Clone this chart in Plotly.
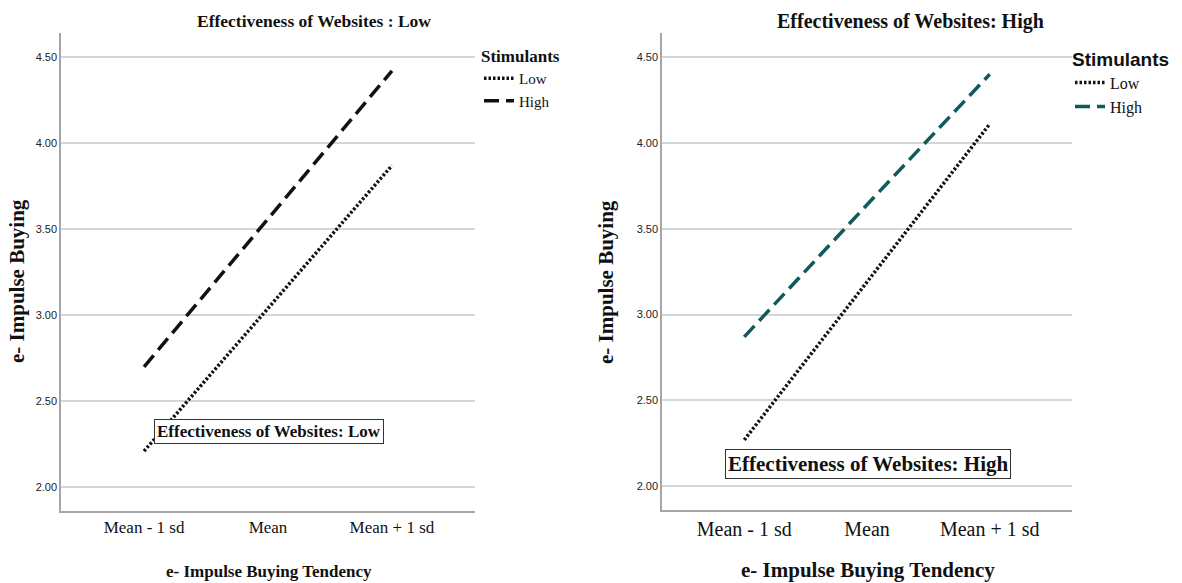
import plotly.graph_objects as go

categories = ["Mean - 1 sd", "Mean", "Mean + 1 sd"]
left_low = [2.21, 3.04, 3.87]
left_high = [2.70, 3.56, 4.42]
right_low = [2.27, 3.19, 4.11]
right_high = [2.87, 3.64, 4.40]
y_ticks = [2.0, 2.5, 3.0, 3.5, 4.0, 4.5]
series_names = ["Low", "High"]

W, H = 1182, 583
SERIF = "Liberation Serif, Times New Roman, serif"
SANS = "Liberation Sans, Arial, sans-serif"
TEAL = "#115a5a"


def px(x):
    return x / W


def py(y):
    return 1 - y / H


fig = go.Figure()

# left panel
fig.add_trace(go.Scatter(x=categories, y=left_low, mode="lines", name=series_names[0],
                         line=dict(color="#111111", width=3.5, dash="2.5px,2px"),
                         xaxis="x", yaxis="y", legend="legend"))
fig.add_trace(go.Scatter(x=categories, y=left_high, mode="lines", name=series_names[1],
                         line=dict(color="#111111", width=3.5, dash="15px,7px"),
                         xaxis="x", yaxis="y", legend="legend"))
# right panel
fig.add_trace(go.Scatter(x=categories, y=right_low, mode="lines", name=series_names[0],
                         line=dict(color="#111111", width=3.5, dash="2.5px,2px"),
                         xaxis="x2", yaxis="y2", legend="legend2"))
fig.add_trace(go.Scatter(x=categories, y=right_high, mode="lines", name=series_names[1],
                         line=dict(color=TEAL, width=3.5, dash="15px,7px"),
                         xaxis="x2", yaxis="y2", legend="legend2"))

yr = [1.862, 4.64]
xr = [-0.67, 2.67]

common_x = dict(type="category", range=xr, showgrid=False, zeroline=False,
                showline=True, linecolor="#a6a6a6", linewidth=1.5, ticks="",
                fixedrange=True)
common_y = dict(range=yr, tickvals=y_ticks, tickformat=".2f", showgrid=True,
                gridcolor="#d6d6d6", gridwidth=1.5, zeroline=False,
                showline=True, linecolor="#a6a6a6", linewidth=1.5, ticks="",
                tickfont=dict(family=SANS, size=11, color="#222222"),
                fixedrange=True)

fig.update_layout(
    width=W, height=H,
    margin=dict(l=0, r=0, t=0, b=0),
    paper_bgcolor="white", plot_bgcolor="white",
    showlegend=True,
    xaxis=dict(common_x, domain=[px(61), px(475)], anchor="y",
               tickfont=dict(family=SERIF, size=17, color="#111111")),
    yaxis=dict(common_y, domain=[py(511), py(33)], anchor="x"),
    xaxis2=dict(common_x, domain=[px(662), px(1072)], anchor="y2",
                tickfont=dict(family=SERIF, size=20, color="#111111")),
    yaxis2=dict(common_y, domain=[py(510), py(33)], anchor="x2"),
    legend=dict(x=px(479), y=py(40), xanchor="left", yanchor="top",
                bgcolor="rgba(0,0,0,0)", itemwidth=30,
                title=dict(text="<b>Stimulants</b>", font=dict(family=SERIF, size=17, color="#111111")),
                font=dict(family=SERIF, size=15, color="#111111")),
    legend2=dict(x=px(1070), y=py(41), xanchor="left", yanchor="top",
                 bgcolor="rgba(0,0,0,0)", itemwidth=30,
                 title=dict(text="<b>Stimulants</b>", font=dict(family=SANS, size=19, color="#111111")),
                 font=dict(family=SERIF, size=16, color="#111111")),
)

annotations = [
    dict(text="<b>Effectiveness of Websites : Low</b>", x=px(314), y=py(21),
         font=dict(family=SERIF, size=17.5, color="#111111")),
    dict(text="<b>Effectiveness of Websites: High</b>", x=px(910), y=py(22),
         font=dict(family=SERIF, size=20, color="#111111")),
    dict(text="<b>e- Impulse Buying Tendency</b>", x=px(269), y=py(571),
         font=dict(family=SERIF, size=17, color="#111111")),
    dict(text="<b>e- Impulse Buying Tendency</b>", x=px(868), y=py(570),
         font=dict(family=SERIF, size=21, color="#111111")),
    dict(text="<b>e- Impulse Buying</b>", x=px(17), y=py(281), textangle=-90,
         font=dict(family=SERIF, size=21, color="#111111")),
    dict(text="<b>e- Impulse Buying</b>", x=px(606), y=py(282), textangle=-90,
         font=dict(family=SERIF, size=21, color="#111111")),
    dict(text="<b>Effectiveness of Websites: Low</b>", x=px(269), y=py(431.5),
         font=dict(family=SERIF, size=17, color="#111111"),
         bordercolor="#333333", borderwidth=1, borderpad=2, bgcolor="white"),
    dict(text="<b>Effectiveness of Websites: High</b>", x=px(868), y=py(463.5),
         font=dict(family=SERIF, size=21, color="#111111"),
         bordercolor="#333333", borderwidth=1, borderpad=2, bgcolor="white"),
]
for a in annotations:
    a.setdefault("xref", "paper")
    a.setdefault("yref", "paper")
    a.setdefault("showarrow", False)
    a.setdefault("xanchor", "center")
    a.setdefault("yanchor", "middle")
fig.update_layout(annotations=annotations)

# remove the default 8px page margin so the figure fills the window exactly
fig.write_html("out.html", config={"displayModeBar": False},
               post_script="document.body.style.margin='0';")
